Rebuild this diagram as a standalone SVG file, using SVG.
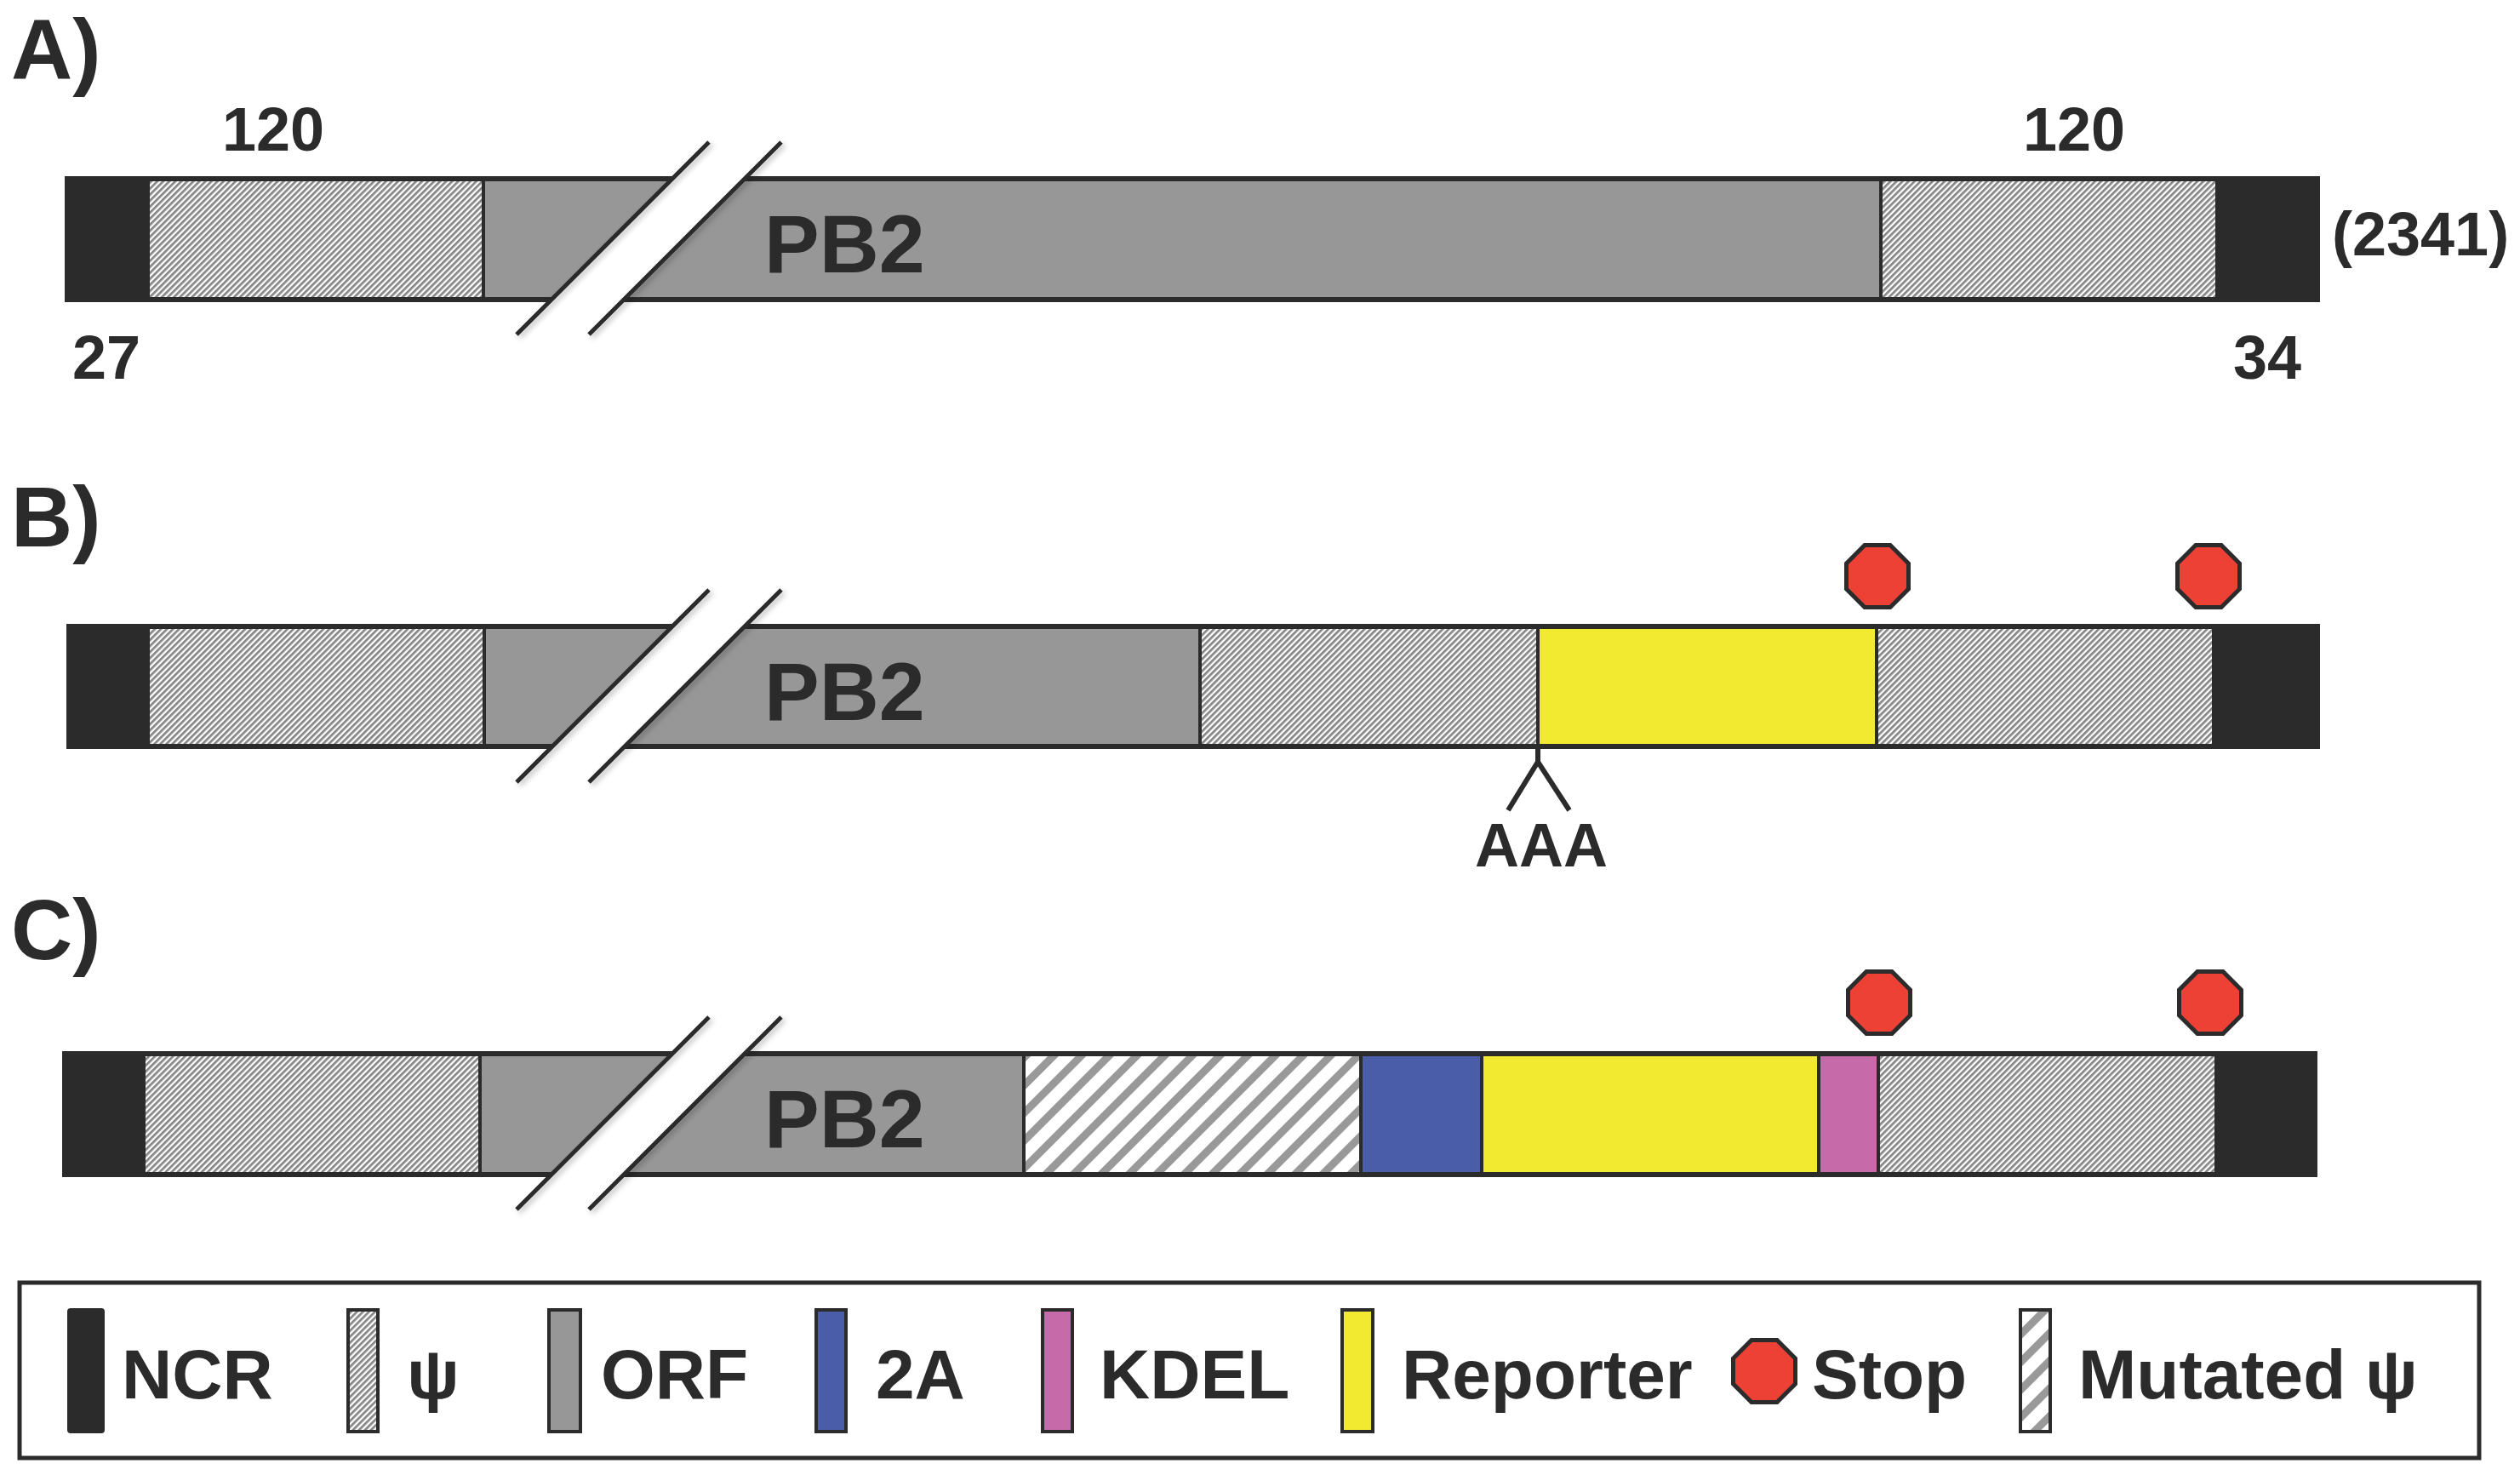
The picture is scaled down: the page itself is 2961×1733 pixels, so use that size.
<svg xmlns="http://www.w3.org/2000/svg" width="2961" height="1733" viewBox="0 0 2961 1733">
<defs>
<style>
.lbl{font-family:"Liberation Sans",Arial,sans-serif;font-weight:bold;fill:#2b2b2b}
.panel{font-size:100px}
.num{font-size:72px}
.pb2{font-size:97px}
.leg{font-size:82px}
.dark{fill:#2b2b2b}
.orf{fill:#979797}
.psi{fill:url(#psiPat)}
.mut{fill:url(#mutPat)}
.rep{fill:#f2ea30}
.twoA{fill:#4a5da8}
.kdel{fill:#c66aaa}
.stop{fill:#ee4136;stroke:#2b2b2b;stroke-width:5;stroke-linejoin:miter}
.slash{stroke:#2b2b2b;stroke-width:5;fill:none}
.gap{fill:#ffffff}
.sw{stroke:#2b2b2b;stroke-width:4}
.conn{stroke:#2b2b2b;stroke-width:6;fill:none;stroke-linecap:butt;stroke-linejoin:miter}
</style>
<pattern id="psiPat" patternUnits="userSpaceOnUse" width="5" height="5" patternTransform="rotate(45)">
<rect width="5" height="5" fill="#ffffff"/>
<rect width="2.7" height="5" fill="#858585"/>
</pattern>
<pattern id="mutPat" patternUnits="userSpaceOnUse" width="23" height="23" patternTransform="rotate(45)">
<rect width="23" height="23" fill="#ffffff"/>
<rect width="9" height="23" fill="#999999"/>
</pattern>
<filter id="shadow" x="-20%" y="-20%" width="140%" height="140%">
<feDropShadow dx="3" dy="3" stdDeviation="3" flood-color="#000000" flood-opacity="0.25"/>
</filter>
<polygon id="oct" points="-15,-36.5 15,-36.5 36.5,-15 36.5,15 15,36.5 -15,36.5 -36.5,15 -36.5,-15"/>
</defs>
<rect width="2961" height="1733" fill="#ffffff"/>

<!-- Row A -->
<g id="rowA">
<text class="lbl panel" x="13" y="93">A)</text>
<g id="A-bar">
<rect class="dark" x="76" y="207" width="2650" height="148"/>
<rect id="A-psi1" class="psi" x="176" y="213" width="390" height="136"/>
<rect id="A-orf" class="orf" x="570" y="213" width="1638" height="136"/>
<rect id="A-psi2" class="psi" x="2212" y="213" width="391" height="136"/>
</g>
<g id="A-break">
<polygon class="gap" points="792,205 879,205 729,357 644,357"/>
<g filter="url(#shadow)">
<line class="slash" x1="833" y1="167" x2="607" y2="393"/>
<line class="slash" x1="918" y1="167" x2="692" y2="393"/>
</g>
</g>
<text class="lbl pb2" x="898" y="320">PB2</text>
<text class="lbl num" x="261" y="177">120</text>
<text class="lbl num" x="2377" y="177">120</text>
<text class="lbl num" x="85" y="445">27</text>
<text class="lbl num" x="2624" y="445">34</text>
<text class="lbl num" x="2740" y="300">(2341)</text>
</g>

<!-- Row B -->
<g id="rowB">
<text class="lbl panel" x="13" y="642">B)</text>
<g id="B-bar">
<rect class="dark" x="78" y="733" width="2648" height="147"/>
<rect id="B-psi1" class="psi" x="176" y="739" width="391" height="135"/>
<rect id="B-orf" class="orf" x="571" y="739" width="837" height="135"/>
<rect id="B-psi2" class="psi" x="1412" y="739" width="393" height="135"/>
<rect id="B-rep" class="rep" x="1809" y="739" width="394" height="135"/>
<rect id="B-psi3" class="psi" x="2207" y="739" width="392" height="135"/>
</g>
<g id="B-break">
<polygon class="gap" points="792,731 879,731 730,882 645,882"/>
<g filter="url(#shadow)">
<line class="slash" x1="833" y1="693" x2="607" y2="919"/>
<line class="slash" x1="918" y1="693" x2="692" y2="919"/>
</g>
</g>
<text class="lbl pb2" x="898" y="846">PB2</text>
<g id="B-stop1"><use href="#oct" class="stop" x="2206" y="677"/></g>
<g id="B-stop2"><use href="#oct" class="stop" x="2595" y="677"/></g>
<text class="lbl num" x="1811" y="1018" text-anchor="middle">AAA</text>
</g>

<!-- Row C -->
<g id="rowC">
<text class="lbl panel" x="13" y="1127">C)</text>
<g id="C-bar">
<rect class="dark" x="73" y="1235" width="2650" height="148"/>
<rect id="C-psi1" class="psi" x="171" y="1241" width="391" height="136"/>
<rect id="C-orf" class="orf" x="566" y="1241" width="635" height="136"/>
<rect id="C-mut" class="mut" x="1205" y="1241" width="392" height="136"/>
<rect id="C-2a" class="twoA" x="1601" y="1241" width="138" height="136"/>
<rect id="C-rep" class="rep" x="1743" y="1241" width="392" height="136"/>
<rect id="C-kdel" class="kdel" x="2139" y="1241" width="66" height="136"/>
<rect id="C-psi2" class="psi" x="2209" y="1241" width="393" height="136"/>
</g>
<g id="C-break">
<polygon class="gap" points="792,1233 879,1233 729,1385 644,1385"/>
<g filter="url(#shadow)">
<line class="slash" x1="833" y1="1195" x2="607" y2="1421"/>
<line class="slash" x1="918" y1="1195" x2="692" y2="1421"/>
</g>
</g>
<text class="lbl pb2" x="898" y="1348">PB2</text>
<g id="C-stop1"><use href="#oct" class="stop" x="2208" y="1178"/></g>
<g id="C-stop2"><use href="#oct" class="stop" x="2597" y="1178"/></g>
</g>

<!-- Connectors -->
<g id="connectors">
<polyline class="conn" points="1772,952 1807,895 1844,952"/>
<line class="conn" x1="1807" y1="878" x2="1807" y2="897"/>
</g>

<!-- Legend -->
<g id="legend">
<rect x="23" y="1507" width="2890" height="206" fill="none" stroke="#2b2b2b" stroke-width="5"/>
<g id="leg-ncr"><rect class="dark" x="79" y="1537" width="44" height="147" rx="4"/><text class="lbl leg" x="143" y="1643">NCR</text></g>
<g id="leg-psi"><rect class="psi sw" x="409" y="1539" width="35" height="143"/><text class="lbl leg" x="478" y="1643" font-weight="normal">ψ</text></g>
<g id="leg-orf"><rect class="orf sw" x="645" y="1539" width="37" height="143"/><text class="lbl leg" x="706" y="1643">ORF</text></g>
<g id="leg-2a"><rect class="twoA sw" x="959" y="1539" width="35" height="143"/><text class="lbl leg" x="1029" y="1643">2A</text></g>
<g id="leg-kdel"><rect class="kdel sw" x="1225" y="1539" width="35" height="143"/><text class="lbl leg" x="1292" y="1643">KDEL</text></g>
<g id="leg-rep"><rect class="rep sw" x="1577" y="1539" width="36" height="143"/><text class="lbl leg" x="1647" y="1643">Reporter</text></g>
<g id="leg-stop"><use href="#oct" class="stop" x="2073" y="1611"/><text class="lbl leg" x="2129" y="1643">Stop</text></g>
<g id="leg-mut"><rect class="mut sw" x="2374" y="1539" width="35" height="143"/><text class="lbl leg" x="2442" y="1643">Mutated ψ</text></g>
</g>
</svg>
